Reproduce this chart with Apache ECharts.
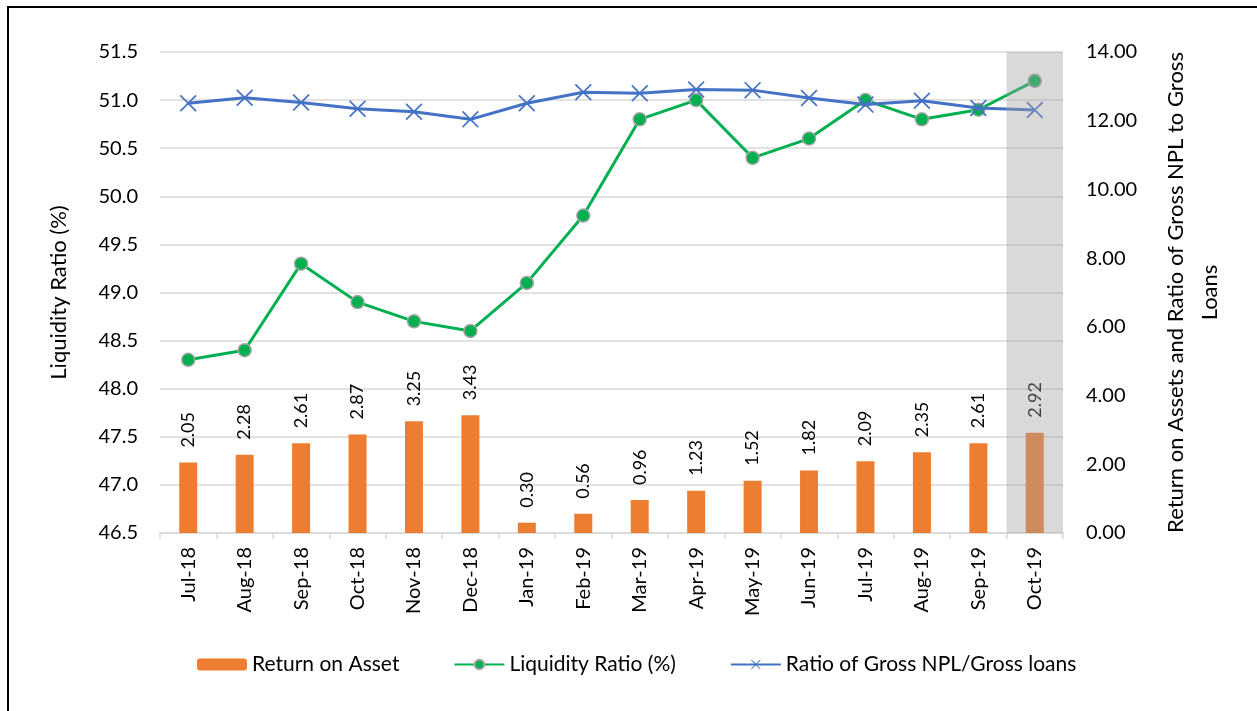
<!DOCTYPE html>
<html>
<head>
<meta charset="utf-8">
<style>
  html, body { margin: 0; padding: 0; background: #fff; }
  #main { width: 1257px; height: 711px; }
</style>
<script src="https://cdn.jsdelivr.net/npm/echarts@6/dist/echarts.min.js"></script>
</head>
<body>
<div id="main"></div>
<script>
// chart data
var months = ['Jul-18', 'Aug-18', 'Sep-18', 'Oct-18', 'Nov-18', 'Dec-18', 'Jan-19', 'Feb-19',
  'Mar-19', 'Apr-19', 'May-19', 'Jun-19', 'Jul-19', 'Aug-19', 'Sep-19', 'Oct-19'];
var returnOnAsset = [2.05, 2.28, 2.61, 2.87, 3.25, 3.43, 0.30, 0.56, 0.96, 1.23, 1.52, 1.82, 2.09, 2.35, 2.61, 2.92];
var liquidityRatio = [48.3, 48.4, 49.3, 48.9, 48.7, 48.6, 49.1, 49.8, 50.8, 51.0, 50.4, 50.6, 51.0, 50.8, 50.9, 51.2];
var grossNpl = [12.51, 12.67, 12.53, 12.35, 12.26, 12.04, 12.51, 12.83, 12.80, 12.91, 12.89, 12.66, 12.47, 12.58, 12.37, 12.31];
// shaded (latest) month
var highlight = ['-', '-', '-', '-', '-', '-', '-', '-', '-', '-', '-', '-', '-', '-', '-', 1];

var font = 'Lato';
var crossPath = 'path://M0,0.7L0.7,0L5,4.3L9.3,0L10,0.7L5.7,5L10,9.3L9.3,10L5,5.7L0.7,10L0,9.3L4.3,5Z';

var myChart = echarts.init(document.getElementById('main'));
var option = {
  backgroundColor: '#fff',
  textStyle: { fontFamily: font },
  graphic: [{
    type: 'rect',
    shape: { x: 8, y: 7, width: 1300, height: 800 },
    style: { fill: 'none', stroke: '#000', lineWidth: 2 },
    silent: true
  }],
  grid: { left: 160, right: 194, top: 52, bottom: 178 },
  legend: {
    left: 192,
    top: 649,
    itemWidth: 50,
    itemHeight: 12,
    itemGap: 54,
    textStyle: { fontFamily: font, fontSize: 21, color: '#000' },
    data: ['Return on Asset', 'Liquidity Ratio (%)', 'Ratio of Gross NPL/Gross loans']
  },
  xAxis: [{
    type: 'category',
    data: months,
    axisLine: { lineStyle: { color: '#d9d9d9', width: 1.5 } },
    axisTick: { show: true, length: 6, lineStyle: { color: '#d9d9d9', width: 1.5 } },
    axisLabel: { rotate: 90, margin: 14, fontFamily: font, fontSize: 20, color: '#000' }
  }, {
    type: 'category',
    data: months,
    show: false
  }],
  yAxis: [{
    type: 'value',
    min: 46.5,
    max: 51.5,
    interval: 0.5,
    name: 'Liquidity Ratio (%)',
    nameLocation: 'middle',
    nameGap: 90,
    nameTextStyle: { fontFamily: font, fontSize: 22, color: '#000' },
    axisLine: { show: false },
    axisTick: { show: false },
    axisLabel: {
      margin: 22, fontFamily: font, fontSize: 20, color: '#000',
      formatter: function (v) { return v.toFixed(1); }
    },
    splitLine: { lineStyle: { color: '#d9d9d9', width: 1.5 } }
  }, {
    type: 'value',
    min: 0,
    max: 14,
    interval: 2,
    position: 'right',
    name: 'Return on Assets and Ratio of Gross NPL to Gross\nLoans',
    nameLocation: 'middle',
    nameGap: 96,
    nameTextStyle: { fontFamily: font, fontSize: 22, color: '#000', lineHeight: 34, align: 'center' },
    axisLine: { show: false },
    axisTick: { show: false },
    axisLabel: {
      margin: 23, fontFamily: font, fontSize: 20, color: '#000',
      formatter: function (v) { return v.toFixed(2); }
    },
    splitLine: { show: false }
  }, {
    type: 'value',
    min: 0,
    max: 1,
    show: false
  }],
  series: [{
    name: 'Return on Asset',
    type: 'bar',
    xAxisIndex: 0,
    yAxisIndex: 1,
    barWidth: 18,
    data: returnOnAsset,
    itemStyle: { color: '#ED7D31' },
    label: {
      show: true,
      position: 'top',
      rotate: 90,
      align: 'left',
      verticalAlign: 'middle',
      distance: 15,
      fontFamily: font,
      fontSize: 18,
      color: '#000',
      formatter: function (p) { return p.value.toFixed(2); }
    },
    z: 2
  }, {
    name: 'Liquidity Ratio (%)',
    type: 'line',
    yAxisIndex: 0,
    data: liquidityRatio,
    symbol: 'circle',
    symbolSize: 13,
    lineStyle: { color: '#00B050', width: 3 },
    itemStyle: { color: '#00B050', borderColor: '#a5a5a5', borderWidth: 1.5 },
    z: 3
  }, {
    name: 'Ratio of Gross NPL/Gross loans',
    type: 'line',
    yAxisIndex: 1,
    data: grossNpl,
    symbol: crossPath,
    symbolSize: 17,
    lineStyle: { color: '#4472C4', width: 3 },
    itemStyle: { color: '#4472C4' },
    z: 4
  }, {
    name: 'highlight',
    type: 'bar',
    xAxisIndex: 1,
    yAxisIndex: 2,
    barWidth: '100%',
    data: highlight,
    itemStyle: { color: 'rgba(160,160,160,0.4)' },
    silent: true,
    z: 10
  }]
};
myChart.setOption(option);
</script>
</body>
</html>
